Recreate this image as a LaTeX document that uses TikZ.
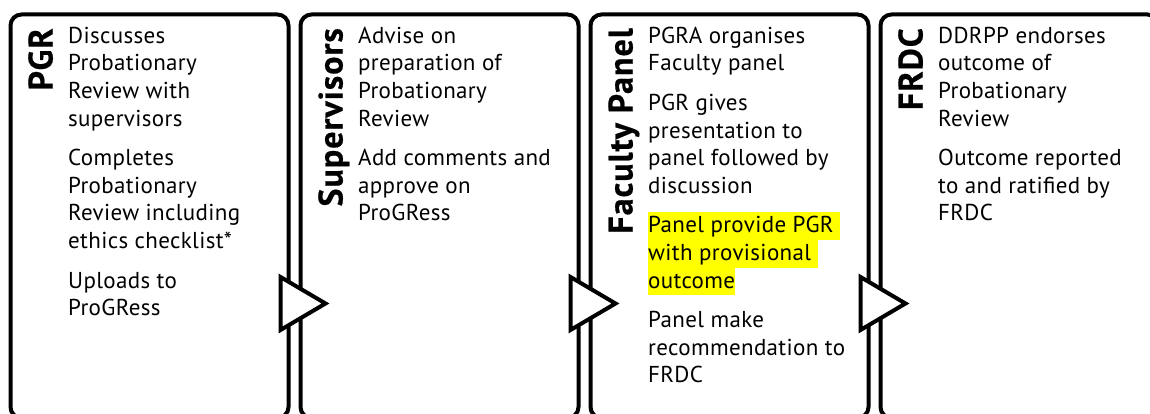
\documentclass[tikz,border=0pt]{standalone}
\usepackage{fontspec}
\setmainfont[LetterSpace=1.5]{PT Sans}
\newfontfamily\lanefont[LetterSpace=3,FakeBold=0.5]{PT Sans Bold}
\usetikzlibrary{calc}
\definecolor{hlyellow}{RGB}{255,255,0}
\tikzset{stage/.style={draw, rectangle, rounded corners=11pt, line width=4pt, minimum width=278pt, minimum height=403.5pt, inner sep=0pt, outer sep=0pt}}
\newcommand{\hlline}[1]{{\fboxsep=0pt\colorbox{hlyellow}{\rule[-7pt]{0pt}{27.5pt}#1}}}

\begin{document}
\begin{tikzpicture}[x=1pt, y=1pt, node distance=290pt]
\tikzstyle{lanetitle} = [rotate=90, anchor=base east, inner sep=0pt, font=\fontsize{34}{40}\lanefont]
\tikzstyle{items} = [anchor=north west, align=left, inner sep=0pt, font=\fontsize{23}{27.6}\selectfont]
\tikzstyle{handover} = [line width=4pt, line join=miter, fill=white, draw=black]

\useasboundingbox (0,0) rectangle (1150,414);
\clip (0,0) rectangle (1150,414);

\node (pgr) [stage] at (149.5,197.75) {};
\node (sup) [stage, right of=pgr] {};
\node (fac) [stage, right of=sup] {};
\node (frdc) [stage, right of=fac] {};

\node (pgrtitle) [lanetitle] at ($(pgr.north west)+(42,-13.5)$) {PGR};
\node (suptitle) [lanetitle] at ($(sup.north west)+(42,-13.5)$) {Supervisors};
\node (factitle) [lanetitle] at ($(fac.north west)+(42,-13.5)$) {Faculty Panel};
\node (frdctitle) [lanetitle] at ($(frdc.north west)+(42,-13.5)$) {FRDC};

\node (pgrtext) [items] at ($(pgr.north west)+(57.5,-12.3)$) {Discusses\\Probationary\\Review with\\supervisors\\[12pt]Completes\\Probationary\\Review including\\ethics checklist*\\[12pt]Uploads to\\ProGRess};
\node (suptext) [items] at ($(sup.north west)+(57.5,-12.3)$) {Advise on\\preparation of\\Probationary\\Review\\[12pt]Add comments and\\approve on\\ProGRess};
\node (factext) [items] at ($(fac.north west)+(57.5,-12.3)$) {PGRA organises\\Faculty panel\\[12pt]PGR gives\\presentation to\\panel followed by\\discussion\\[12pt]\hlline{Panel provide PGR\ }\\\hlline{with provisional\ }\\\hlline{outcome}\\[12pt]Panel make\\recommendation to\\FRDC};
\node (frdctext) [items] at ($(frdc.north west)+(57.5,-12.3)$) {DDRPP endorses\\outcome of\\Probationary\\Review\\[12pt]Outcome reported\\to and ratified by\\FRDC};

% hand-over markers between the stages
\draw [handover] ($(pgr.north east)+(-8,-262.5)$) -- ++(45,-26.5) -- ++(-45,-26.5) -- cycle;
\draw [handover] ($(sup.north east)+(-8,-262.5)$) -- ++(45,-26.5) -- ++(-45,-26.5) -- cycle;
\draw [handover] ($(fac.north east)+(-8,-262.5)$) -- ++(45,-26.5) -- ++(-45,-26.5) -- cycle;

\end{tikzpicture}
\end{document}
